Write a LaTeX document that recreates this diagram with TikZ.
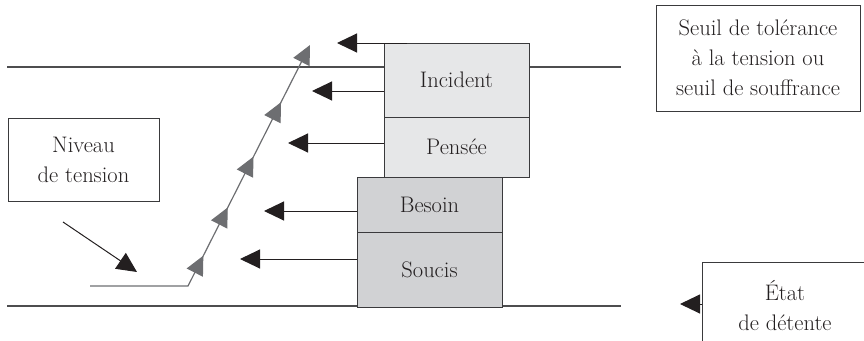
\documentclass[tikz,border=0pt]{standalone}
\usetikzlibrary{arrows.meta,decorations.markings}
\definecolor{ink}{HTML}{231F20}
\definecolor{edge}{HTML}{3A3A3C}
\definecolor{rule}{HTML}{4D4D4F}
\definecolor{trendgray}{HTML}{6D6E71}
\definecolor{light}{HTML}{E6E7E8}
\definecolor{mid}{HTML}{D1D2D4}
\begin{document}
\begin{tikzpicture}[x=1pt,y=-1pt,
  lbl/.style={font=\fontsize{22.5}{30}\selectfont, align=center, text=ink},
  stage/.style={draw=edge, line width=1pt, minimum width=145pt, inner sep=0pt, lbl},
  legend/.style={draw=edge, line width=1pt, inner sep=0pt, lbl},
  push/.style={draw=ink, line width=1pt, -{Triangle[length=20pt,width=19pt]}},
  level/.style={draw=rule, line width=1.2pt},
  trendtip/.style={Triangle[length=19pt,width=18pt,fill=trendgray]},
  trend/.style={draw=trendgray, line width=1.2pt,
    -{Triangle[length=19pt,width=18pt,fill=trendgray]},
    postaction={decorate},
    decoration={markings,
      mark=at position 132pt with {\arrow{Triangle[length=19pt,width=18pt,fill=trendgray]}},
      mark=at position 186pt with {\arrow{Triangle[length=19pt,width=18pt,fill=trendgray]}},
      mark=at position 243pt with {\arrow{Triangle[length=19pt,width=18pt,fill=trendgray]}},
      mark=at position 304pt with {\arrow{Triangle[length=19pt,width=18pt,fill=trendgray]}}}}
]
\useasboundingbox (0,0) rectangle (864,340);
\clip (0,0) rectangle (864,340);

% tolerance threshold and relaxation level
\draw[level] (7,67) -- (621,67);
\draw[level] (7,306) -- (621,306);

% stacked stages
\node[stage, fill=light, minimum height=74pt] (incident) at (456.5,80) {Incident};
\node[stage, fill=light, minimum height=60pt] (pensee) at (456.5,147) {Pensée};
\node[stage, fill=mid, minimum height=55pt] (besoin) at (429.5,204.5) {Besoin};
\node[stage, fill=mid, minimum height=75pt] (soucis) at (429.5,269.5) {Soucis};

% legend boxes
\node[legend, minimum width=204pt, minimum height=106pt] (seuil) at (758,58)
  {Seuil de tolérance\\à la tension ou\\seuil de souffrance};
\node[legend, minimum width=151pt, minimum height=83pt] (niveau) at (83.5,159.5)
  {Niveau\\de tension};
\node[legend, minimum width=166pt, minimum height=88pt] (etat) at (785,306)
  {État\\de détente};

% pushes coming out of the stages
\coordinate (p0s) at (407,43);
\coordinate (p0e) at (337,43);
\coordinate (p1e) at (312,91);
\coordinate (p2e) at (288,143);
\coordinate (p3e) at (264,211);
\coordinate (p4e) at (240,259);
\draw[push] (p0s) -- (p0e);
\draw[push] (incident.west |- p1e) -- (p1e);
\draw[push] (pensee.west |- p2e) -- (p2e);
\draw[push] (besoin.west |- p3e) -- (p3e);
\draw[push] (soucis.west |- p4e) -- (p4e);

% pointer from the tension label
\coordinate (n0) at (63,222);
\coordinate (n1) at (137,272);
\draw[push] (n0) -- (n1);

% marker on the relaxation box
\coordinate (e1) at (680,304);
\draw[push] (etat.west |- e1) -- (e1);

% rising tension curve
\coordinate (t0) at (90,286);
\coordinate (t1) at (188,286);
\coordinate (t2) at (310,45);
\draw[trend] (t0) -- (t1) -- (t2);
\end{tikzpicture}
\end{document}
